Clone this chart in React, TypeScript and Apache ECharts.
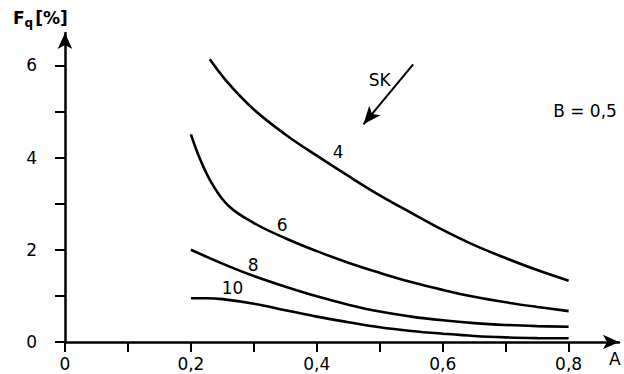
import React, { useEffect, useRef } from "react";
import * as echarts from "echarts";

// Curve data: A (x) vs F_q [%] (y), one curve per SK value
const curveNames = ["4", "6", "8", "10"];
const sk4: number[][] = [[0.23, 6.13], [0.26, 5.6], [0.3, 5.04], [0.35, 4.5], [0.4, 4.04], [0.45, 3.6], [0.5, 3.18], [0.55, 2.8], [0.6, 2.43], [0.65, 2.1], [0.7, 1.82], [0.75, 1.56], [0.8, 1.33]];
const sk6: number[][] = [[0.2, 4.5], [0.215, 3.95], [0.235, 3.4], [0.26, 2.95], [0.3, 2.58], [0.35, 2.25], [0.4, 1.97], [0.45, 1.72], [0.5, 1.5], [0.55, 1.3], [0.6, 1.13], [0.65, 0.98], [0.7, 0.86], [0.75, 0.76], [0.8, 0.67]];
const sk8: number[][] = [[0.2, 2.0], [0.25, 1.7], [0.3, 1.43], [0.35, 1.2], [0.4, 0.99], [0.45, 0.81], [0.5, 0.66], [0.55, 0.55], [0.6, 0.47], [0.65, 0.41], [0.7, 0.37], [0.75, 0.345], [0.8, 0.33]];
const sk10: number[][] = [[0.2, 0.95], [0.225, 0.95], [0.25, 0.93], [0.3, 0.83], [0.35, 0.69], [0.4, 0.55], [0.45, 0.43], [0.5, 0.32], [0.55, 0.24], [0.6, 0.18], [0.65, 0.13], [0.7, 0.1], [0.75, 0.085], [0.8, 0.08]];
const curves = [sk4, sk6, sk8, sk10];

// Curve label positions (data coords)
const curveLabelPos: number[][] = [[0.434, 4.13], [0.345, 2.54], [0.299, 1.67], [0.266, 1.17]];

// Axis ticks and labels
const xTicks = [0, 0.1, 0.2, 0.3, 0.4, 0.5, 0.6, 0.7, 0.8];
const xLabels = [0, 0.2, 0.4, 0.6, 0.8];
const yTicks = [0, 1, 2, 3, 4, 5, 6];
const yLabels = [0, 2, 4, 6];

// SK arrow (data coords) and annotations
const skArrowFrom = [0.553, 6.02];
const skArrowTo = [0.474, 4.72];
const annotations: (number | string)[][] = [[0.5, 5.69, "SK"], [0.826, 5.0, "B = 0,5"]];

const FONT = "DejaVu Sans";
const INK = "#000";

const fmt = (v: number) => (v === 0 ? "0" : String(v).replace(".", ","));

export default function App() {
  const ref = useRef<HTMLDivElement>(null);
  useEffect(() => {
    if (!ref.current) return;
    const chart = echarts.init(ref.current, null, { renderer: "svg" });
    const lineSeries = curves.map((d, i) => ({
      type: "line",
      name: curveNames[i],
      data: d,
      smooth: 0.4,
      showSymbol: false,
      symbol: "none",
      lineStyle: { color: INK, width: 2.6 },
      z: 3,
    }));
    const textLabel = {
      show: true,
      position: "inside",
      formatter: (p: any) => p.data[2],
      color: INK,
      fontFamily: FONT,
      fontSize: 17,
      textBorderWidth: 0,
    };
    chart.setOption({
      animation: false,
      grid: { left: 65, top: 33, right: 5, bottom: 32, containLabel: false },
      xAxis: {
        type: "value",
        min: 0,
        max: 0.88,
        interval: 0.1,
        splitLine: { show: false },
        axisLine: {
          onZero: false,
          lineStyle: { color: INK, width: 2.5 },
          symbol: ["none", "arrow"],
          symbolSize: [11, 16],
        },
        axisTick: {
          show: true,
          inside: false,
          length: 10,
          lineStyle: { color: INK, width: 2 },
          customValues: xTicks,
        },
        axisLabel: {
          customValues: xLabels,
          formatter: (v: number) => fmt(Math.round(v * 10) / 10),
          color: INK,
          fontFamily: FONT,
          fontSize: 17,
          margin: 13,
        },
        name: "A",
        nameLocation: "end",
        nameGap: -10,
        nameTextStyle: {
          color: INK,
          fontFamily: FONT,
          fontSize: 17,
          verticalAlign: "top",
          padding: [8, 0, 0, 0],
        },
      },
      yAxis: {
        type: "value",
        min: 0,
        max: 6.7,
        interval: 1,
        splitLine: { show: false },
        axisLine: {
          onZero: false,
          lineStyle: { color: INK, width: 2.5 },
          symbol: ["none", "arrow"],
          symbolSize: [11, 16],
        },
        axisTick: {
          show: true,
          inside: false,
          length: 10,
          lineStyle: { color: INK, width: 2 },
          customValues: yTicks,
        },
        axisLabel: {
          customValues: yLabels,
          formatter: (v: number) => String(v),
          color: INK,
          fontFamily: FONT,
          fontSize: 17,
          margin: 28,
        },
      },
      graphic: [
        {
          type: "text",
          left: 13,
          top: 9,
          style: {
            text: "{a|F}{b|q}{a|[%]}",
            rich: {
              a: { fontFamily: FONT, fontSize: 17, fontWeight: "bold", fill: INK },
              b: { fontFamily: FONT, fontSize: 12, fontWeight: "bold", fill: INK, padding: [10, 2, 0, 0] },
            },
          },
        },
      ],
      series: [
        ...lineSeries,
        {
          type: "scatter",
          symbolSize: 0,
          itemStyle: { opacity: 1, color: INK },
          data: curveLabelPos.map((p, i) => [p[0], p[1], curveNames[i]]),
          label: textLabel,
          z: 4,
        },
        {
          type: "line",
          data: [],
          markLine: {
            silent: true,
            symbol: ["none", "arrow"],
            symbolSize: [11, 18],
            lineStyle: { color: INK, width: 2, type: "solid" },
            label: { show: false },
            data: [[{ coord: skArrowFrom }, { coord: skArrowTo }]],
          },
        },
        {
          type: "scatter",
          symbolSize: 0,
          itemStyle: { opacity: 1, color: INK },
          data: annotations,
          label: textLabel,
          z: 4,
        },
      ],
    });
    return () => chart.dispose();
  }, []);
  return (
    <div
      ref={ref}
      style={{ position: "fixed", left: 0, top: 0, width: 624, height: 374, background: "#fff" }}
    />
  );
}
